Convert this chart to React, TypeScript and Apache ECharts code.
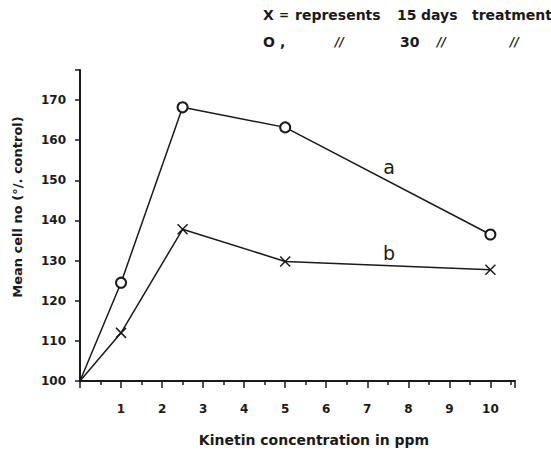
import React, { useEffect, useRef } from "react";
import * as echarts from "echarts";

const concA = [0, 1, 2.5, 5, 10];
const valuesA = [100, 124.5, 168.2, 163.2, 136.5];
const concB = [0, 1, 2.5, 5, 10];
const valuesB = [100, 112, 137.8, 129.8, 127.7];
const yTicks = [100, 110, 120, 130, 140, 150, 160, 170];
const xTickLabels = ["1", "2", "3", "4", "5", "6", "7", "8", "9", "10"];

const FONT = "DejaVu Sans";
const INK = "#1a1a1a";

export default function App() {
  const ref = useRef<HTMLDivElement>(null);
  useEffect(() => {
    if (!ref.current) return;
    const chart = echarts.init(ref.current, undefined, { renderer: "svg" });
    const crossPath = "path://M0,0L10,10M10,0L0,10";
    const mk = (xs: number[], ys: number[]) =>
      xs.map((x, i) => (i === 0 ? { value: [x, ys[i]], symbol: "none" } : { value: [x, ys[i]] }));
    const hdr = (text: string, x: number, y: number, font?: string) => ({
      type: "text",
      x,
      y,
      style: { text, font: font || `bold 14px "${FONT}"`, fill: INK, align: "left", verticalAlign: "middle" },
    });
    chart.setOption({
      animation: false,
      backgroundColor: "#ffffff",
      grid: { left: 80, right: 36, top: 70, bottom: 70, containLabel: false },
      xAxis: {
        type: "value",
        min: 0,
        max: 10.6,
        interval: 1,
        axisLine: { show: true, lineStyle: { color: INK, width: 2 } },
        axisTick: { show: true, length: 7, lineStyle: { color: INK, width: 1.5 } },
        minorTick: { show: true, splitNumber: 2, length: 4, lineStyle: { color: INK, width: 1.5 } },
        splitLine: { show: false },
        minorSplitLine: { show: false },
        axisLabel: {
          margin: 22,
          color: INK,
          fontFamily: FONT,
          fontSize: 12,
          fontWeight: "bold",
          formatter: (v: number) => {
            const i = Math.round(v) - 1;
            return v > 0 && i < xTickLabels.length && Math.abs(v - Math.round(v)) < 1e-6 ? xTickLabels[i] : "";
          },
        },
      },
      yAxis: {
        type: "value",
        min: 100,
        max: 177.5,
        interval: 10,
        axisLine: { show: true, lineStyle: { color: INK, width: 2 } },
        axisTick: { show: true, length: 5, lineStyle: { color: INK, width: 1.5 } },
        splitLine: { show: false },
        axisLabel: {
          margin: 14,
          color: INK,
          fontFamily: FONT,
          fontSize: 12,
          fontWeight: "bold",
          formatter: (v: number) => (yTicks.includes(v) ? String(v) : ""),
        },
      },
      series: [
        {
          name: "a",
          type: "line",
          data: mk(concA, valuesA),
          symbol: "emptyCircle",
          symbolSize: 10,
          lineStyle: { color: INK, width: 1.5 },
          itemStyle: { color: INK, borderColor: INK, borderWidth: 1.5 },
        },
        {
          name: "b",
          type: "line",
          data: mk(concB, valuesB),
          symbol: crossPath,
          symbolSize: 10,
          lineStyle: { color: INK, width: 1.5 },
          itemStyle: { color: "none", borderColor: INK, borderWidth: 1.5 },
        },
      ],
      graphic: [
        hdr("X", 263, 15),
        hdr("=", 279, 15, `bold 12px "${FONT}"`),
        hdr("represents", 295, 15),
        hdr("15", 397, 15),
        hdr("days", 421, 15),
        hdr("treatment", 472, 15),
        hdr("O", 263, 42),
        hdr(",", 280, 42),
        hdr("//", 335, 42, `italic bold 12px "${FONT}"`),
        hdr("30", 400, 42),
        hdr("//", 437, 42, `italic bold 12px "${FONT}"`),
        hdr("//", 510, 42, `italic bold 12px "${FONT}"`),
        {
          type: "text",
          x: 389,
          y: 167,
          style: { text: "a", font: `19px "${FONT}"`, fill: INK, align: "center", verticalAlign: "middle" },
        },
        {
          type: "text",
          x: 389,
          y: 253,
          style: { text: "b", font: `19px "${FONT}"`, fill: INK, align: "center", verticalAlign: "middle" },
        },
        {
          type: "text",
          x: 314,
          y: 440,
          style: {
            text: "Kinetin concentration in ppm",
            font: `bold 14px "${FONT}"`,
            fill: INK,
            align: "center",
            verticalAlign: "middle",
          },
        },
        {
          type: "text",
          x: 17,
          y: 207,
          rotation: Math.PI / 2,
          style: {
            text: "Mean cell no (°/. control)",
            font: `bold 13px "${FONT}"`,
            fill: INK,
            align: "center",
            verticalAlign: "middle",
          },
        },
      ],
    });
    return () => chart.dispose();
  }, []);
  return <div ref={ref} style={{ position: "absolute", left: 0, top: 0, width: 551, height: 451 }} />;
}
